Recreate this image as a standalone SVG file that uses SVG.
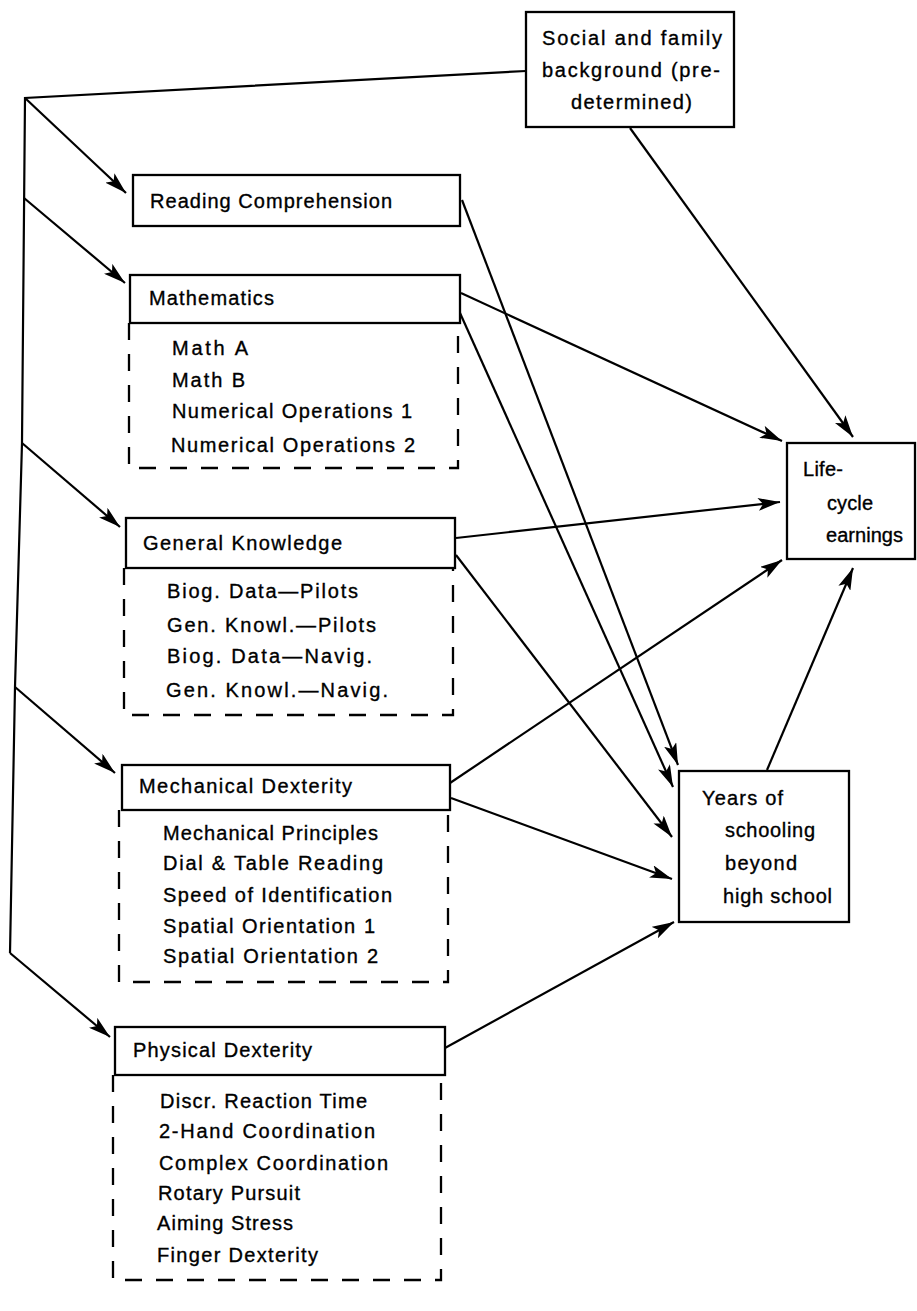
<svg xmlns="http://www.w3.org/2000/svg" width="917" height="1311" viewBox="0 0 917 1311">
<defs>
<marker id="arr" markerUnits="userSpaceOnUse" markerWidth="24" markerHeight="13" refX="22" refY="6.5" orient="auto">
<path d="M0,0 L22,6.5 L0,13 L5,6.5 z" fill="#000"/>
</marker>
<style>
.box{fill:#fff;stroke:#000;stroke-width:2.3}
.dash{fill:none;stroke:#000;stroke-width:2.3;stroke-dasharray:17 14}
.ln{fill:none;stroke:#000;stroke-width:2.2}
.ar{fill:none;stroke:#000;stroke-width:2.2;marker-end:url(#arr)}
text{font-family:"Liberation Sans",Arial,sans-serif;font-size:20px;fill:#000;stroke:#000;stroke-width:0.35}
</style>
</defs>
<rect width="917" height="1311" fill="#fff"/>
<g id="connectors">
<polyline class="ln" points="526,71 25,98 22,443 15,687 10,953"/>
<line class="ar" x1="25" y1="98" x2="126" y2="193"/>
<line class="ar" x1="24" y1="198" x2="125" y2="283"/>
<line class="ar" x1="22" y1="443" x2="120" y2="527"/>
<line class="ar" x1="15" y1="687" x2="115" y2="773"/>
<line class="ar" x1="10" y1="953" x2="110" y2="1037"/>
<line class="ar" x1="630" y1="128" x2="853" y2="437"/>
<line class="ar" x1="462" y1="200" x2="678" y2="765"/>
<line class="ar" x1="461" y1="293" x2="782" y2="441"/>
<line class="ar" x1="460" y1="313" x2="673" y2="787"/>
<line class="ar" x1="456" y1="538" x2="780" y2="502"/>
<line class="ar" x1="456" y1="555" x2="672" y2="837"/>
<line class="ar" x1="450" y1="783" x2="782" y2="560"/>
<line class="ar" x1="451" y1="798" x2="672" y2="879"/>
<line class="ar" x1="445" y1="1048" x2="674" y2="922"/>
<line class="ar" x1="767" y1="770" x2="853" y2="568"/>
</g>
<g id="social">
<rect class="box" x="526" y="12" width="208" height="115"/>
<text x="542" y="45" textLength="180" lengthAdjust="spacing">Social and family</text>
<text x="542" y="77" textLength="178" lengthAdjust="spacing">background (pre-</text>
<text x="571" y="109" textLength="121" lengthAdjust="spacing">determined)</text>
</g>
<g id="reading">
<rect class="box" x="133" y="175" width="327" height="51"/>
<text x="150" y="208" textLength="242" lengthAdjust="spacing">Reading Comprehension</text>
</g>
<g id="mathematics">
<rect class="box" x="130" y="275" width="330" height="48"/>
<path class="dash" d="M129,323 V468 H458 V323"/>
<text x="149" y="305" textLength="125" lengthAdjust="spacing">Mathematics</text>
<text x="172" y="355" textLength="76" lengthAdjust="spacing">Math A</text>
<text x="172" y="387" textLength="73" lengthAdjust="spacing">Math B</text>
<text x="172" y="418" textLength="240" lengthAdjust="spacing">Numerical Operations 1</text>
<text x="171" y="452" textLength="244" lengthAdjust="spacing">Numerical Operations 2</text>
</g>
<g id="general">
<rect class="box" x="126" y="518" width="329" height="50"/>
<path class="dash" d="M124,568 V715 H453 V568"/>
<text x="143" y="550" textLength="199" lengthAdjust="spacing">General Knowledge</text>
<text x="167" y="598" textLength="191" lengthAdjust="spacing">Biog. Data—Pilots</text>
<text x="167" y="632" textLength="209" lengthAdjust="spacing">Gen. Knowl.—Pilots</text>
<text x="167" y="663" textLength="205" lengthAdjust="spacing">Biog. Data—Navig.</text>
<text x="166" y="697" textLength="222" lengthAdjust="spacing">Gen. Knowl.—Navig.</text>
</g>
<g id="mechanical">
<rect class="box" x="122" y="765" width="328" height="45"/>
<path class="dash" d="M119,810 V982 H448 V810"/>
<text x="139" y="793" textLength="213" lengthAdjust="spacing">Mechanical Dexterity</text>
<text x="163" y="840" textLength="215" lengthAdjust="spacing">Mechanical Principles</text>
<text x="163" y="870" textLength="220" lengthAdjust="spacing">Dial &amp; Table Reading</text>
<text x="163" y="902" textLength="229" lengthAdjust="spacing">Speed of Identification</text>
<text x="163" y="933" textLength="212" lengthAdjust="spacing">Spatial Orientation 1</text>
<text x="163" y="963" textLength="215" lengthAdjust="spacing">Spatial Orientation 2</text>
</g>
<g id="physical">
<rect class="box" x="115" y="1027" width="330" height="48"/>
<path class="dash" d="M113,1075 V1280 H441 V1075"/>
<text x="133" y="1057" textLength="179" lengthAdjust="spacing">Physical Dexterity</text>
<text x="160" y="1108" textLength="207" lengthAdjust="spacing">Discr. Reaction Time</text>
<text x="159" y="1138" textLength="216" lengthAdjust="spacing">2-Hand Coordination</text>
<text x="159" y="1170" textLength="229" lengthAdjust="spacing">Complex Coordination</text>
<text x="158" y="1200" textLength="142" lengthAdjust="spacing">Rotary Pursuit</text>
<text x="157" y="1230" textLength="136" lengthAdjust="spacing">Aiming Stress</text>
<text x="157" y="1262" textLength="161" lengthAdjust="spacing">Finger Dexterity</text>
</g>
<g id="lifecycle">
<rect class="box" x="787" y="443" width="128" height="116"/>
<text x="803" y="476" textLength="40" lengthAdjust="spacing">Life-</text>
<text x="827" y="510" textLength="46" lengthAdjust="spacing">cycle</text>
<text x="826" y="542" textLength="77" lengthAdjust="spacing">earnings</text>
</g>
<g id="schooling">
<rect class="box" x="679" y="771" width="170" height="151"/>
<text x="702" y="805" textLength="81" lengthAdjust="spacing">Years of</text>
<text x="725" y="837" textLength="90" lengthAdjust="spacing">schooling</text>
<text x="725" y="870" textLength="72" lengthAdjust="spacing">beyond</text>
<text x="723" y="903" textLength="109" lengthAdjust="spacing">high school</text>
</g>
</svg>
